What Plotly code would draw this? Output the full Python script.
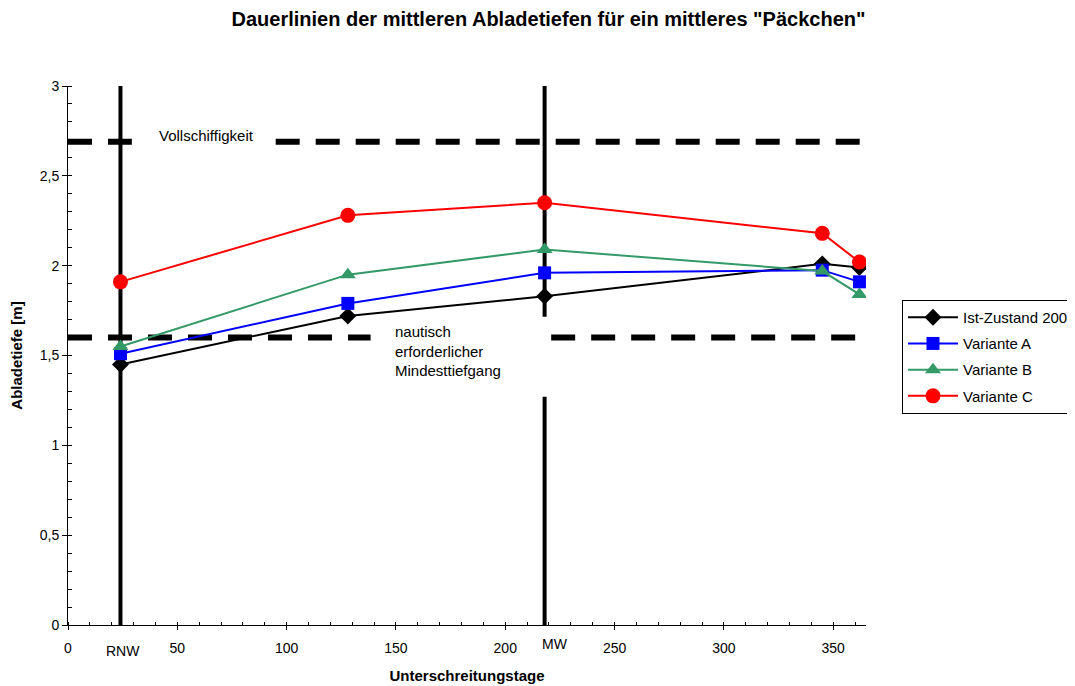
import plotly.graph_objects as go

# ---- data ----
days = [24, 128, 218, 345, 362]
ist_2000 = [1.45, 1.72, 1.83, 2.01, 1.99]
variante_a = [1.51, 1.79, 1.96, 1.975, 1.91]
variante_b = [1.55, 1.95, 2.09, 1.97, 1.84]
variante_c = [1.91, 2.28, 2.35, 2.18, 2.02]

series_names = ["Ist-Zustand 2000", "Variante A", "Variante B", "Variante C"]
series_values = [ist_2000, variante_a, variante_b, variante_c]
series_colors = ["#000000", "#0000FF", "#339966", "#FF0000"]
series_symbols = ["diamond", "square", "triangle-up", "circle"]
series_sizes = [13, 13, 14, 15]

# reference levels (Abladetiefe)
vollschiffigkeit = 2.69
mindesttiefgang = 1.6
# horizontal reference segments (x start, x end)
voll_segments = [(0, 29.2), (95, 365)]
mind_segments = [(0, 138.4), (221, 365)]
# characteristic days
rnw_day = 24
mw_day = 218
rnw_segments = [(0, 3)]
mw_segments = [(0, 1.27), (1.715, 3)]

x_ticks = [0, 50, 100, 150, 200, 250, 300, 350]

FONT = "Liberation Sans, Arial, sans-serif"

fig = go.Figure()

# reference lines
for x0, x1 in voll_segments:
    fig.add_trace(go.Scatter(x=[x0, x1], y=[vollschiffigkeit, vollschiffigkeit], mode="lines",
                             line=dict(color="black", width=6, dash="24px,16px"),
                             showlegend=False, hoverinfo="skip"))
for x0, x1 in mind_segments:
    fig.add_trace(go.Scatter(x=[x0, x1], y=[mindesttiefgang, mindesttiefgang], mode="lines",
                             line=dict(color="black", width=6, dash="24px,16px"),
                             showlegend=False, hoverinfo="skip"))
for y0, y1 in rnw_segments:
    fig.add_trace(go.Scatter(x=[rnw_day, rnw_day], y=[y0, y1], mode="lines",
                             line=dict(color="black", width=4),
                             showlegend=False, hoverinfo="skip"))
for y0, y1 in mw_segments:
    fig.add_trace(go.Scatter(x=[mw_day, mw_day], y=[y0, y1], mode="lines",
                             line=dict(color="black", width=4),
                             showlegend=False, hoverinfo="skip"))

# data series
for name, vals, col, sym, sz in zip(series_names, series_values, series_colors,
                                     series_symbols, series_sizes):
    fig.add_trace(go.Scatter(x=days, y=vals, mode="lines+markers", name=name,
                             line=dict(color=col, width=2),
                             marker=dict(symbol=sym, size=sz, color=col),
                             legendgroup=name))

fig.add_annotation(x=40.7, y=2.722, xref="x", yref="y", text="Vollschiffigkeit",
                   showarrow=False, xanchor="left", yanchor="middle",
                   font=dict(family=FONT, size=15, color="black"))
fig.add_annotation(x=148.5, y=1.527, xref="x", yref="y",
                   text="nautisch<br>erforderlicher<br>Mindesttiefgang",
                   showarrow=False, xanchor="left", yanchor="middle", align="left",
                   font=dict(family=FONT, size=15, color="black"))
fig.add_annotation(x=25.1, y=-0.048, xref="x", yref="paper", text="RNW",
                   showarrow=False, xanchor="center", yanchor="middle",
                   font=dict(family=FONT, size=14, color="black"))
fig.add_annotation(x=222.7, y=-0.036, xref="x", yref="paper", text="MW",
                   showarrow=False, xanchor="center", yanchor="middle",
                   font=dict(family=FONT, size=14, color="black"))

fig.update_layout(
    width=1075, height=686,
    margin=dict(l=60, r=217, t=78, b=69, autoexpand=False),
    paper_bgcolor="white", plot_bgcolor="white",
    separators=",.",
    font=dict(family=FONT, size=14, color="black"),
    title=dict(text="<b>Dauerlinien der mittleren Abladetiefen für ein mittleres \"Päckchen\"</b>",
               x=0.5028, xref="container", xanchor="center",
               y=1 - 11 / 686, yref="container", yanchor="middle",
               font=dict(family=FONT, size=20, color="black")),
    showlegend=True,
    legend=dict(x=1.0451, y=0.603, xanchor="left", yanchor="top",
                bordercolor="black", borderwidth=1, bgcolor="white",
                font=dict(family=FONT, size=15, color="black"),
                traceorder="grouped", tracegroupgap=3.7, itemwidth=50),
)

fig.update_xaxes(range=[0, 365], tickvals=x_ticks, ticks="outside", ticklen=4,
                 tickcolor="black", showline=True, linecolor="black", linewidth=1,
                 showgrid=False, zeroline=False, ticklabelstandoff=6,
                 tickfont=dict(family=FONT, size=14, color="black"),
                 minor=dict(dtick=10, tick0=0, ticks="inside", ticklen=3,
                            tickcolor="black", showgrid=False),
                 title=dict(text="<b>Unterschreitungstage</b>", standoff=15,
                            font=dict(family=FONT, size=15, color="black")))
fig.update_yaxes(range=[0, 3], dtick=0.5, tick0=0, ticks="outside", ticklen=5,
                 tickcolor="black", showline=True, linecolor="black", linewidth=1,
                 showgrid=False, zeroline=False,
                 tickfont=dict(family=FONT, size=14, color="black"),
                 minor=dict(dtick=0.1, tick0=0, ticks="inside", ticklen=4,
                            tickcolor="black", showgrid=False),
                 title=dict(text="<b>Abladetiefe [m]</b>", standoff=15,
                            font=dict(family=FONT, size=15, color="black")))

fig.write_html("out.html")
